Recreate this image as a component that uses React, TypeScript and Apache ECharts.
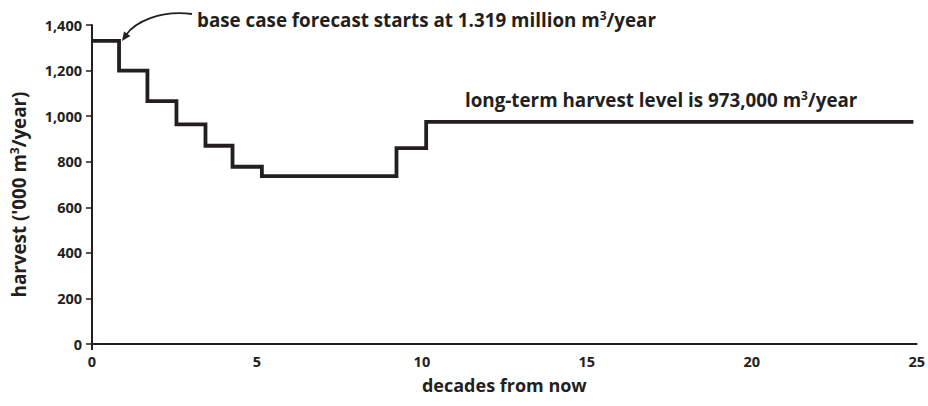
import React, { useEffect, useRef } from "react";
import * as echarts from "echarts";

// step starts (decades from now) and harvest ('000 m3/year)
const decades = [0, 0.82, 1.68, 2.56, 3.44, 4.26, 5.15, 9.23, 10.13, 24.9];
const harvest = [1330, 1200, 1066, 964, 870, 778, 737, 860, 975, 975];
const xTicks = [0, 5, 10, 15, 20, 25];
const yTicks = [0, 200, 400, 600, 800, 1000, 1200, 1400];

const INK = "#231f20";
const FONT = "'Open Sans', 'DejaVu Sans', sans-serif";

export default function App() {
  const ref = useRef<HTMLDivElement>(null);
  useEffect(() => {
    if (!ref.current) return;
    const chart = echarts.init(ref.current, undefined, { renderer: "svg" });
    const sup = { fontSize: 12, fontWeight: "bold", fontFamily: FONT, color: INK, verticalAlign: "top", lineHeight: 14 };
    const big = { fontFamily: FONT, fontWeight: "bold", fontSize: 18.8, color: INK, lineHeight: 22 };
    chart.setOption({
      animation: false,
      backgroundColor: "#ffffff",
      grid: { left: 91, right: 8, top: 25, bottom: 62, containLabel: false },
      xAxis: {
        type: "value",
        min: xTicks[0],
        max: xTicks[xTicks.length - 1],
        interval: 5,
        name: "decades from now",
        nameLocation: "middle",
        nameGap: 32,
        nameTextStyle: { fontFamily: FONT, fontWeight: "bold", fontSize: 18, color: INK },
        axisLine: { show: true, lineStyle: { color: INK, width: 2 } },
        axisTick: { show: true, customValues: [0], length: 6, lineStyle: { color: INK, width: 2 } },
        axisLabel: { customValues: xTicks, margin: 10, fontFamily: FONT, fontWeight: "bold", fontSize: 14.5, color: INK },
        splitLine: { show: false },
      },
      yAxis: {
        type: "value",
        min: yTicks[0],
        max: yTicks[yTicks.length - 1],
        interval: 200,
        name: "{a|harvest ('000 m}{s|3}{a|/year)}",
        nameLocation: "middle",
        nameGap: 62,
        nameTextStyle: {
          padding: [0, 20, 0, 0],
          rich: { a: big, s: sup },
        },
        axisLine: { show: true, lineStyle: { color: INK, width: 2 } },
        axisTick: { show: true, length: 6, lineStyle: { color: INK, width: 1.5 } },
        axisLabel: {
          margin: 10,
          fontFamily: FONT,
          fontWeight: "bold",
          fontSize: 14.5,
          color: INK,
          formatter: (v: number) => v.toLocaleString("en-US"),
        },
        splitLine: { show: false },
      },
      series: [
        {
          type: "line",
          step: "end",
          data: decades.map((d, i) => [d, harvest[i]]),
          symbol: "none",
          lineStyle: { color: INK, width: 3.8, join: "miter" },
        },
      ],
      graphic: [
        {
          type: "bezierCurve",
          shape: { x1: 192, y1: 14, cpx1: 160, cpy1: 10, cpx2: 135, cpy2: 22, x2: 126, y2: 35 },
          style: { stroke: INK, lineWidth: 1.8, fill: null },
        },
        {
          type: "polygon",
          shape: { points: [[122, 41], [130.4, 36], [124, 31.4]] },
          style: { fill: INK },
        },
        {
          type: "text",
          x: 197,
          y: 20,
          style: {
            text: "{a|base case forecast starts at 1.319 million m}{s|3}{a|/year}",
            verticalAlign: "middle",
            rich: { a: { ...big, fill: INK }, s: { ...sup, fill: INK } },
          },
        },
        {
          type: "text",
          x: 465,
          y: 100,
          style: {
            text: "{a|long-term harvest level is 973,000 m}{s|3}{a|/year}",
            verticalAlign: "middle",
            rich: { a: { ...big, fill: INK }, s: { ...sup, fill: INK } },
          },
        },
      ],
    });
    return () => chart.dispose();
  }, []);
  return <div ref={ref} style={{ width: 928, height: 406, position: "fixed", left: 0, top: 0 }} />;
}
